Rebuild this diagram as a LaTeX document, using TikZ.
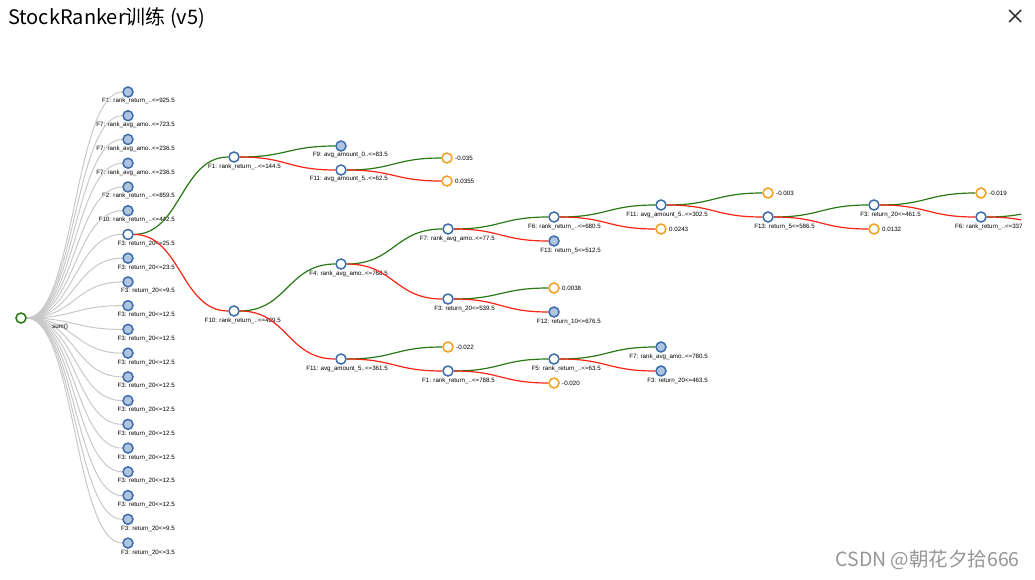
\documentclass[tikz,border=0pt]{standalone}
\usepackage{fontspec}
\setmainfont{Liberation Sans}
\newfontfamily\cjkfont{Noto Sans CJK SC}
\usepackage{tikz}
\usetikzlibrary{calc, backgrounds}
\definecolor{nodeblue}{RGB}{60, 110, 175}
\definecolor{collfill}{RGB}{176, 196, 222}
\definecolor{leaforange}{RGB}{245, 160, 30}
\definecolor{yesgreen}{RGB}{40, 120, 20}
\definecolor{nored}{RGB}{250, 35, 20}
\definecolor{linkgray}{RGB}{200, 200, 200}
\definecolor{markgray}{RGB}{150, 150, 150}

% split node with its label kept under the links
\newcommand{\tnode}[5]{%
  \node[#1] (#2) at (#3,#4) {};
  \begin{scope}[on background layer]
    \node[lab] (#2-lab) at ($(#2)+(47,11)$) {#5};
  \end{scope}
}
% leaf node with its value on the right
\newcommand{\vnode}[4]{%
  \node[leaf] (#1) at (#2,#3) {};
  \node[val] (#1-lab) at ($(#1)+(8,0)$) {#4};
}

\begin{document}
\begin{tikzpicture}[x=1pt, y=-1pt,
  split/.style={circle, draw=nodeblue, fill=white, line width=1.5pt, minimum size=10pt, inner sep=0pt},
  coll/.style={split, fill=collfill},
  leaf/.style={split, draw=leaforange},
  rootnode/.style={split, draw=yesgreen},
  lab/.style={font=\fontsize{6.2}{7}\selectfont, inner sep=0pt, anchor=base east},
  val/.style={font=\fontsize{6.2}{7}\selectfont, inner sep=0pt, anchor=west},
  hlink/.style={to path={.. controls ($(\tikztostart)!.5!(\tikztotarget |- \tikztostart)$) and ($(\tikztotarget)!.5!(\tikztostart |- \tikztotarget)$) .. (\tikztotarget)}},
  yes/.style={hlink, draw=yesgreen, line width=1.2pt},
  no/.style={hlink, draw=nored, line width=1.2pt},
  fan/.style={hlink, draw=linkgray, line width=1pt}
]
  \useasboundingbox (0,0) rectangle (1035,580);

  % header
  \node[anchor=base west, inner sep=0pt, font=\cjkfont\fontsize{20}{24}\selectfont] (title) at (8,25) {StockRanker训练 (v5)};
  \draw[line width=1.4pt, black!85] (1009,10) -- (1021,22) (1021,10) -- (1009,22);

  % root and first level
  \node[rootnode] (root) at (21,318) {};
  \node[val, anchor=base west] (sumlab) at (52,328) {sum()};
  \foreach \txt/\sty [count=\i from 0] in {
    F1: rank\_return\_..<=925.5/coll, F7: rank\_avg\_amo..<=723.5/coll,
    F7: rank\_avg\_amo..<=236.5/coll, F7: rank\_avg\_amo..<=236.5/coll,
    F2: rank\_return\_..<=859.5/coll, F10: rank\_return\_..<=442.5/coll,
    F3: return\_20<=25.5/split, F3: return\_20<=23.5/coll,
    F3: return\_20<=9.5/coll, F3: return\_20<=12.5/coll,
    F3: return\_20<=12.5/coll, F3: return\_20<=12.5/coll,
    F3: return\_20<=12.5/coll, F3: return\_20<=12.5/coll,
    F3: return\_20<=12.5/coll, F3: return\_20<=12.5/coll,
    F3: return\_20<=12.5/coll, F3: return\_20<=12.5/coll,
    F3: return\_20<=9.5/coll, F3: return\_20<=3.5/coll}
    \tnode{\sty}{l\i}{128}{92+23.74*\i}{\txt};

  % tree of F3: return_20<=25.5
  \tnode{split}{a}{234}{157}{F1: rank\_return\_..<=144.5}
  \tnode{split}{b}{234}{311}{F10: rank\_return\_..<=429.5}
  \tnode{coll}{a1}{341}{146}{F9: avg\_amount\_0..<=83.5}
  \tnode{split}{a2}{341}{170}{F11: avg\_amount\_5..<=62.5}
  \vnode{a21}{447}{158}{-0.035}
  \vnode{a22}{447}{181}{0.0355}
  \tnode{split}{b1}{341}{264}{F4: rank\_avg\_amo..<=768.5}
  \tnode{split}{b2}{341}{359}{F11: avg\_amount\_5..<=361.5}
  \tnode{split}{b11}{448}{229}{F7: rank\_avg\_amo..<=77.5}
  \tnode{split}{b12}{448}{299}{F3: return\_20<=539.5}
  \tnode{split}{b111}{554}{217}{F6: rank\_return\_..<=680.5}
  \tnode{coll}{b112}{554}{241}{F13: return\_5<=512.5}
  \vnode{b121}{554}{288}{0.0038}
  \tnode{coll}{b122}{554}{312}{F12: return\_10<=676.5}
  \tnode{split}{c}{661}{205}{F11: avg\_amount\_5..<=302.5}
  \vnode{c0}{661}{229}{0.0243}
  \vnode{c1}{768}{193}{-0.003}
  \tnode{split}{d}{768}{217}{F13: return\_5<=586.5}
  \tnode{split}{e}{874}{205}{F3: return\_20<=461.5}
  \vnode{d0}{874}{229}{0.0132}
  \vnode{e1}{981}{193}{-0.019}
  \node[split] (f) at (981,217) {};
  \vnode{b21}{448}{347}{-0.022}
  \tnode{split}{b22}{448}{371}{F1: rank\_return\_..<=788.5}
  \tnode{split}{b221}{554}{359}{F5: rank\_return\_..<=63.5}
  \vnode{b222}{554}{383}{-0.020}
  \tnode{coll}{b2211}{661}{347}{F7: rank\_avg\_amo..<=780.5}
  \tnode{coll}{b2212}{661}{371}{F3: return\_20<=463.5}

  % view ends at the right edge
  \begin{scope}[on background layer]
    \clip (0,0) rectangle (1021,580);
    \node[lab] (f-lab) at ($(f)+(47,11)$) {F6: rank\_return\_..<=337.5};
    \coordinate (f1) at (1088,205);
    \coordinate (f2) at (1088,229);
    \draw[yes] (f) to (f1);
    \draw[no] (f) to (f2);
  \end{scope}

  % links
  \begin{scope}[on background layer]
    \foreach \i in {0,...,19}
      \draw[fan] (root) to (l\i);
    \foreach \s/\t in {l6/a, a/a1, a2/a21, b/b1, b1/b11, b11/b111, b12/b121,
      b111/c, c/c1, d/e, e/e1, b2/b21, b22/b221, b221/b2211}
      \draw[yes] (\s) to (\t);
    \foreach \s/\t in {l6/b, a/a2, a2/a22, b/b2, b1/b12, b11/b112, b12/b122,
      b111/c0, c/d, d/d0, e/f, b2/b22, b22/b222, b221/b2212}
      \draw[no] (\s) to (\t);
  \end{scope}

  \node[anchor=base east, inner sep=0pt, text=markgray, font=\cjkfont\fontsize{19.5}{22}\selectfont] (mark) at (1020,566) {CSDN @朝花夕拾666};
\end{tikzpicture}
\end{document}
